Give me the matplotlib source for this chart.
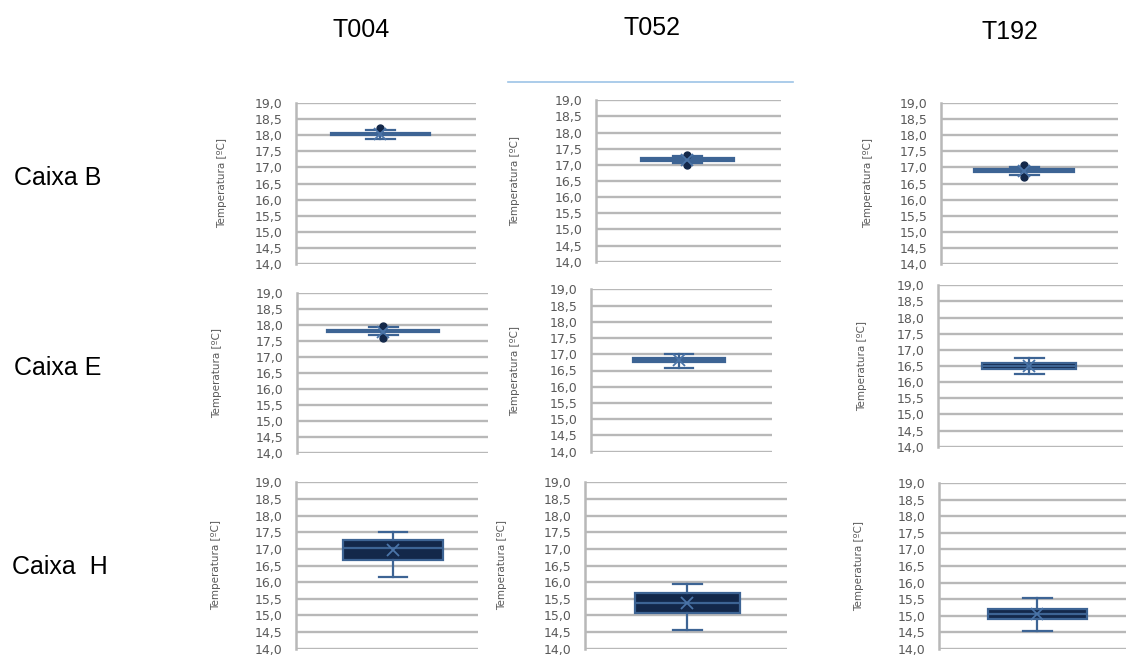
import matplotlib
matplotlib.use("Agg")
import matplotlib.pyplot as plt
from matplotlib.lines import Line2D
import numpy as np

# --- data -----------------------------------------------------------------
columns = ["T004", "T052", "T192"]
rows = ["Caixa B", "Caixa E", "Caixa  H"]

# five-number summaries per panel (row-major: B, E, H x T004, T052, T192)
whisker_low = [17.89, 17.05, 16.77,
               17.68, 16.57, 16.25,
               16.15, 14.55, 14.53]
q1 = [18.01, 17.12, 16.86,
      17.78, 16.76, 16.42,
      16.67, 15.07, 14.90]
median = [18.05, 17.16, 16.90,
          17.82, 16.82, 16.50,
          17.04, 15.37, 15.05]
q3 = [18.09, 17.21, 16.94,
      17.86, 16.88, 16.58,
      17.26, 15.66, 15.20]
whisker_high = [18.17, 17.29, 17.03,
                17.94, 17.00, 16.74,
                17.52, 15.95, 15.52]
mean = [18.03, 17.16, 16.90,
        17.80, 16.83, 16.50,
        16.98, 15.37, 15.05]
outliers = [[18.22], [17.32, 17.01], [17.07, 16.70],
            [17.97, 17.60], [], [],
            [], [], []]

y_ticks = [14.0, 14.5, 15.0, 15.5, 16.0, 16.5, 17.0, 17.5, 18.0, 18.5, 19.0]
y_tick_labels = ["14,0", "14,5", "15,0", "15,5", "16,0", "16,5",
                 "17,0", "17,5", "18,0", "18,5", "19,0"]
y_label = "Temperatura [ºC]"

# --- layout (pixels on a 1129 x 655 canvas) --------------------------------
W, H = 1129, 655
# axes box: left, top, right, bottom
axes_px = [(296, 103, 476, 264), (596, 100, 781, 262), (941, 103, 1118, 264),
           (297, 293, 488, 453), (591, 289, 772, 452), (938, 285, 1123, 447),
           (296, 482, 478, 649), (585, 482, 787, 649), (939, 483, 1126, 649)]
# box centre and width (pixels)
box_px = [(380, 99), (687, 93), (1024, 100),
          (383, 112), (679, 92), (1029, 94),
          (393, 100), (687, 105), (1037, 99)]
ylabel_x_px = [227, 520, 873, 222, 520, 867, 221, 507, 864]

col_title_px = [(361, 30), (652, 28), (1010, 32)]
row_label_px = [(58, 178), (58, 368), (60, 567)]

fill_col = "#13284a"
edge_col = "#3d6494"
mean_col = "#4a74a8"
grid_col = "#b8b8b8"
tick_col = "#595959"

fig = plt.figure(figsize=(W / 100, H / 100), dpi=100)
fig.patch.set_facecolor("white")

for i in range(9):
    l, t, r, b = axes_px[i]
    ax = fig.add_axes([l / W, 1 - b / H, (r - l) / W, (b - t) / H])
    cx, bw = box_px[i]
    frac = (cx - l) / (r - l)
    xmax = 1.0 / frac
    width_data = bw / (r - l) * xmax
    cap_data = 29 / (r - l) * xmax

    stats = [dict(med=median[i], q1=q1[i], q3=q3[i],
                  whislo=whisker_low[i], whishi=whisker_high[i],
                  mean=mean[i], fliers=outliers[i])]
    ax.bxp(stats, positions=[1], widths=[width_data], capwidths=[cap_data],
           showmeans=True, patch_artist=True, showfliers=True,
           boxprops=dict(facecolor=fill_col, edgecolor=edge_col, linewidth=1.6),
           medianprops=dict(color=edge_col, linewidth=1.6),
           whiskerprops=dict(color=edge_col, linewidth=1.6),
           capprops=dict(color=edge_col, linewidth=1.6),
           meanprops=dict(marker="x", markeredgecolor=mean_col,
                          markersize=9, markeredgewidth=1.3),
           flierprops=dict(marker="o", markerfacecolor=fill_col,
                           markeredgecolor=fill_col, markersize=5))

    ax.set_xlim(0, xmax)
    ax.set_ylim(13.99, 19.01)
    ax.set_yticks(y_ticks)
    ax.set_yticklabels(y_tick_labels, family="DejaVu Sans")
    ax.set_xticks([])
    ax.tick_params(axis="y", length=0, pad=10, labelsize=9,
                   labelcolor=tick_col)
    ax.grid(axis="y", color=grid_col, linewidth=1.7, zorder=0)
    ax.set_axisbelow(True)
    for side in ("top", "right", "bottom"):
        ax.spines[side].set_visible(False)
    ax.spines["left"].set_color(grid_col)
    ax.spines["left"].set_linewidth(1.8)

    ax.set_ylabel(y_label, fontsize=7.5, color=tick_col,
                  family=["Liberation Sans Narrow", "DejaVu Sans"])
    ax.yaxis.set_label_coords((ylabel_x_px[i] - l) / (r - l), 0.5)

for name, (x, y) in zip(columns, col_title_px):
    fig.text(x / W, 1 - y / H, name, ha="center", va="center",
             fontsize=18, family="Liberation Sans", color="black")
for name, (x, y) in zip(rows, row_label_px):
    fig.text(x / W, 1 - y / H, name, ha="center", va="center",
             fontsize=18, family="Liberation Sans", color="black")

# thin rule above the middle column
fig.add_artist(Line2D([508 / W, 793 / W], [1 - 82 / H, 1 - 82 / H],
                      color="#9dc3e6", linewidth=1.2))

fig.savefig("out.png", dpi=100, facecolor="white")
